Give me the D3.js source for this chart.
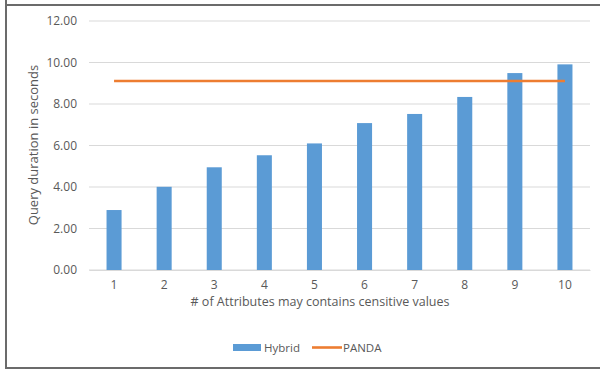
<!DOCTYPE html>
<html><head><meta charset="utf-8">
<script src="https://cdn.jsdelivr.net/npm/d3@7/dist/d3.min.js"></script>
<style>body{margin:0;background:#fff}svg{display:block}text{font-family:"Open Sans","Liberation Sans",sans-serif}</style>
</head><body>
<script>
const categories = ["1","2","3","4","5","6","7","8","9","10"];
const hybrid = [2.89, 4.01, 4.95, 5.53, 6.10, 7.08, 7.52, 8.34, 9.49, 9.91];
const panda = [9.11, 9.11, 9.11, 9.11, 9.11, 9.11, 9.11, 9.11, 9.11, 9.11];
const yTicks = [0, 2, 4, 6, 8, 10, 12];
const seriesNames = ["Hybrid", "PANDA"];

const W = 600, H = 369;
const svg = d3.select("body").append("svg").attr("width", W).attr("height", H);
// outer frame
svg.append("path").attr("d", `M6,0 V368 H600`).attr("fill","none").attr("stroke","#6b6b6b").attr("stroke-width",2);
svg.append("line").attr("x1",6).attr("x2",600).attr("y1",5).attr("y2",5).attr("stroke","#6b6b6b").attr("stroke-width",2);

const x = d3.scaleBand().domain(categories).range([89, 590]).paddingInner(0.7).paddingOuter(0.35);
const y = d3.scaleLinear().domain([0, 12]).range([270, 21]);

// gridlines
svg.append("g").selectAll("line").data(yTicks).join("line")
  .attr("x1", 89).attr("x2", 590).attr("y1", d => y(d)).attr("y2", d => y(d))
  .attr("stroke", "#d9d9d9").attr("stroke-width", 1);

// y axis labels
const yAxis = d3.axisLeft(y).tickValues(yTicks).tickFormat(d3.format(".2f")).tickSize(0).tickPadding(12);
const gy = svg.append("g").attr("transform", "translate(89,0)").call(yAxis);
gy.select(".domain").remove();
gy.selectAll("text").attr("fill", "#595959").attr("font-size", 12).attr("font-family", '"Open Sans",sans-serif');

// bars
svg.append("g").selectAll("rect").data(hybrid).join("rect")
  .attr("x", (d,i) => x(categories[i])).attr("width", x.bandwidth())
  .attr("y", d => y(d)).attr("height", d => y(0) - y(d))
  .attr("fill", "#5b9bd5");

// x axis
const xAxis = d3.axisBottom(x).tickSize(0).tickPadding(10);
const gx = svg.append("g").attr("transform", `translate(0,${y(0)})`).call(xAxis);
gx.select(".domain").attr("stroke", "#d9d9d9");
gx.selectAll("text").attr("fill", "#595959").attr("font-size", 12).attr("font-family", '"Open Sans",sans-serif');

// PANDA line
const line = d3.line().x((d,i) => x(categories[i]) + x.bandwidth()/2).y(d => y(d));
svg.append("path").datum(panda).attr("d", line).attr("fill","none").attr("stroke","#ed7d31").attr("stroke-width",2.6);

// axis titles
svg.append("text").attr("x", 320).attr("y", 306).attr("text-anchor","middle")
  .attr("font-size", 12.5).attr("fill", "#595959").text("# of Attributes may contains censitive values");
svg.append("text").attr("transform", "translate(38,145) rotate(-90)").attr("text-anchor","middle")
  .attr("font-size", 13).attr("fill", "#595959").text("Query duration in seconds");

// legend
const lg = svg.append("g");
lg.append("rect").attr("x", 233).attr("y", 344).attr("width", 28).attr("height", 7).attr("fill", "#5b9bd5");
lg.append("text").attr("x", 264).attr("y", 351.5).attr("font-size", 11.5).attr("fill", "#595959").text(seriesNames[0]);
lg.append("line").attr("x1", 312).attr("x2", 342).attr("y1", 347.5).attr("y2", 347.5).attr("stroke", "#ed7d31").attr("stroke-width", 2.6);
lg.append("text").attr("x", 343).attr("y", 351.5).attr("font-size", 11.5).attr("fill", "#595959").text(seriesNames[1]);
</script>
</body></html>
